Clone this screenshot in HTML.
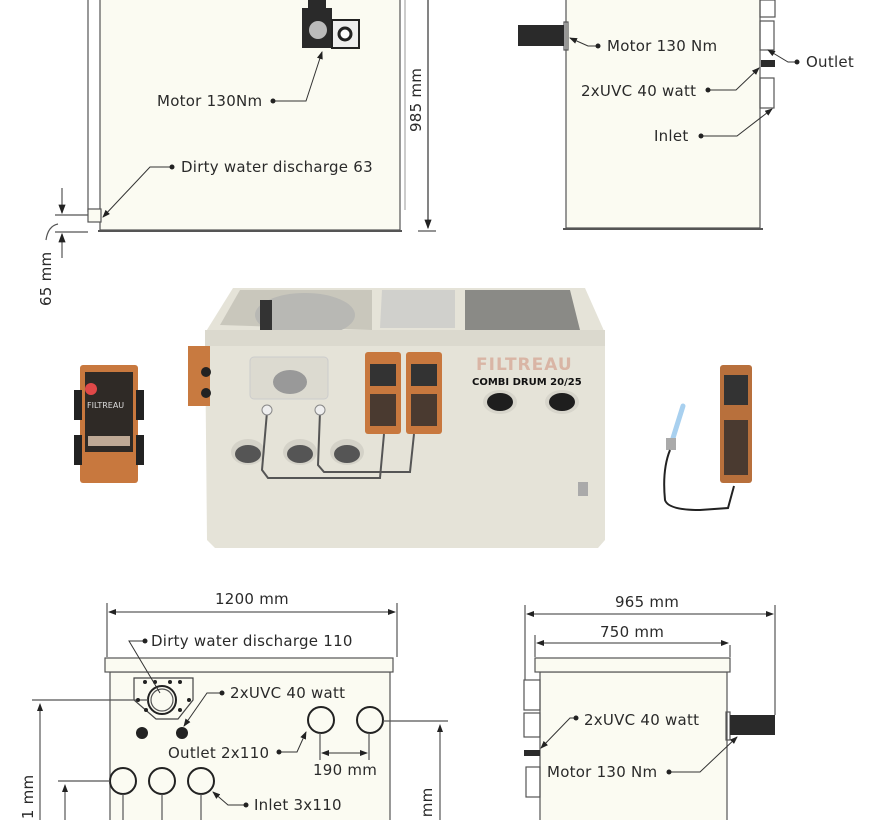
<!DOCTYPE html>
<html><head><meta charset="utf-8"><style>
html,body{margin:0;padding:0;background:#fff;}
svg{display:block;}
text{font-family:"DejaVu Sans","Liberation Sans",sans-serif;font-size:15px;letter-spacing:0.25px;fill:#2a2a2a;}
</style></head><body>
<svg width="890" height="820" viewBox="0 0 890 820" xmlns="http://www.w3.org/2000/svg">
<defs>
<marker id="ar" markerWidth="8" markerHeight="6" refX="7" refY="3" orient="auto"><path d="M0,0 L8,3 L0,6z" fill="#222"/></marker>
<marker id="al" markerWidth="8" markerHeight="6" refX="1" refY="3" orient="auto"><path d="M8,0 L0,3 L8,6z" fill="#222"/></marker>
</defs>
<g stroke="#555" fill="none" stroke-width="1.2">
<rect x="100" y="-2" width="300" height="232" fill="#fbfbf2"/>
<line x1="88" y1="0" x2="88" y2="212"/>
<rect x="88" y="209" width="13" height="13" fill="#fbfbf2"/>
<line x1="98" y1="231" x2="402" y2="231" stroke-width="2"/>
<line x1="405" y1="0" x2="405" y2="210" stroke="#aaa"/>
<line x1="428" y1="0" x2="428" y2="228" marker-end="url(#ar)" stroke="#333"/>
<line x1="418" y1="231" x2="436" y2="231"/>
<line x1="55" y1="215" x2="88" y2="215"/><line x1="55" y1="232" x2="88" y2="232"/>
<line x1="62" y1="188" x2="62" y2="213" marker-end="url(#ar)"/>
<line x1="62" y1="258" x2="62" y2="234" marker-end="url(#ar)"/>
<path d="M46,240 Q48,226 58,224"/>
</g>
<g>
<rect x="302" y="8" width="30" height="40" fill="#2a2a2a"/>
<rect x="308" y="0" width="18" height="10" fill="#2a2a2a"/>
<circle cx="318" cy="30" r="9" fill="#bbb"/>
<rect x="332" y="20" width="27" height="28" fill="#eee" stroke="#222" stroke-width="2"/>
<circle cx="345" cy="34" r="6" fill="#fff" stroke="#222" stroke-width="3"/>
</g>
<g stroke="#333" fill="none" stroke-width="1">
<path d="M273,101 L306,101 L322,52" marker-end="url(#ar)"/>
<path d="M172,167 L150,167 L103,217" marker-end="url(#ar)"/>
</g>
<circle cx="273" cy="101" r="2.5" fill="#222"/><circle cx="172" cy="167" r="2.5" fill="#222"/>
<text x="157" y="106">Motor 130Nm</text>
<text x="181" y="172">Dirty water discharge 63</text>
<text transform="translate(421,132) rotate(-90)">985 mm</text>
<text transform="translate(51,306) rotate(-90)">65 mm</text>

<g stroke="#555" fill="none" stroke-width="1.2">
<rect x="566" y="-2" width="194" height="230" fill="#fbfbf2"/>
<line x1="563" y1="229" x2="763" y2="229" stroke-width="2"/>
<rect x="760" y="0" width="15" height="17"/>
<rect x="760" y="21" width="14" height="29"/>
<rect x="760" y="78" width="14" height="30"/>
<rect x="564" y="22" width="4" height="28"/>
</g>
<rect x="518" y="25" width="46" height="21" fill="#2a2a2a"/>
<rect x="761" y="60" width="14" height="7" fill="#2a2a2a"/>
<g stroke="#333" fill="none" stroke-width="1">
<path d="M598,46 L588,46 L570,38" marker-end="url(#ar)"/>
<path d="M797,62 L788,62 L768,50" marker-end="url(#ar)"/>
<path d="M708,90 L736,90 L759,68" marker-end="url(#ar)"/>
<path d="M701,136 L737,136 L772,109" marker-end="url(#ar)"/>
</g>
<circle cx="598" cy="46" r="2.5" fill="#222"/><circle cx="797" cy="62" r="2.5" fill="#222"/>
<circle cx="708" cy="90" r="2.5" fill="#222"/><circle cx="701" cy="136" r="2.5" fill="#222"/>
<text x="607" y="51">Motor 130 Nm</text>
<text x="806" y="67">Outlet</text>
<text x="581" y="96">2xUVC 40 watt</text>
<text x="654" y="141">Inlet</text>

<polygon points="205,333 233,288 585,288 605,333 605,540 598,548 215,548 207,540" fill="#e5e3d8"/>
<polygon points="220,325 240,290 372,290 372,330" fill="#c9c7bc"/>
<ellipse cx="305" cy="315" rx="50" ry="22" fill="#b8b8b4"/>
<rect x="260" y="300" width="12" height="30" fill="#333"/>
<polygon points="382,290 455,290 455,328 380,328" fill="#d0d0cc"/>
<polygon points="465,290 570,290 580,330 465,330" fill="#8a8a86"/>
<rect x="205" y="330" width="400" height="16" fill="#dbd9ce"/>
<rect x="188" y="346" width="22" height="60" fill="#c87a40"/>
<circle cx="206" cy="372" r="5" fill="#222"/><circle cx="206" cy="393" r="5" fill="#222"/>
<rect x="250" y="357" width="78" height="42" rx="4" fill="#dcdad0" stroke="#ccc"/>
<ellipse cx="290" cy="382" rx="17" ry="12" fill="#999"/>
<rect x="365" y="352" width="36" height="82" rx="3" fill="#c8783e"/>
<rect x="406" y="352" width="36" height="82" rx="3" fill="#c8783e"/>
<rect x="370" y="364" width="26" height="22" fill="#333"/><rect x="411" y="364" width="26" height="22" fill="#333"/>
<rect x="370" y="394" width="26" height="32" fill="#4a3a30"/><rect x="411" y="394" width="26" height="32" fill="#4a3a30"/>
<text x="476" y="370" style="font-size:17px;font-weight:bold;fill:#d9b5a5;letter-spacing:1px">FILTREAU</text>
<text x="472" y="385" style="font-size:10px;font-weight:bold;fill:#111;letter-spacing:0">COMBI DRUM 20/25</text>
<ellipse cx="500" cy="402" rx="17" ry="12" fill="#d7d5cb"/><ellipse cx="500" cy="402" rx="13" ry="9" fill="#1e1e1e"/>
<ellipse cx="562" cy="402" rx="17" ry="12" fill="#d7d5cb"/><ellipse cx="562" cy="402" rx="13" ry="9" fill="#1e1e1e"/>
<g fill="#d4d2c8"><ellipse cx="248" cy="452" rx="17" ry="13"/><ellipse cx="300" cy="452" rx="17" ry="13"/><ellipse cx="347" cy="452" rx="17" ry="13"/></g>
<g fill="#555"><ellipse cx="248" cy="454" rx="13" ry="9"/><ellipse cx="300" cy="454" rx="13" ry="9"/><ellipse cx="347" cy="454" rx="13" ry="9"/></g>
<g stroke="#555" fill="none" stroke-width="2">
<path d="M267,412 L262,470 L268,478 L380,478 L384,434"/>
<path d="M320,412 L318,465 L324,472 L410,472 L414,434"/>
</g>
<circle cx="267" cy="410" r="5" fill="#eee" stroke="#888"/><circle cx="320" cy="410" r="5" fill="#eee" stroke="#888"/>
<rect x="578" y="482" width="10" height="14" fill="#aaa"/>

<rect x="80" y="365" width="58" height="118" rx="3" fill="#c8783e"/>
<rect x="74" y="390" width="8" height="30" fill="#222"/><rect x="136" y="390" width="8" height="30" fill="#222"/>
<rect x="74" y="435" width="8" height="30" fill="#222"/><rect x="136" y="435" width="8" height="30" fill="#222"/>
<rect x="85" y="372" width="48" height="80" fill="#2f2a26"/>
<circle cx="91" cy="389" r="6" fill="#e04848"/>
<text x="87" y="408" style="font-size:8px;fill:#ddd;letter-spacing:0">FILTREAU</text>
<rect x="88" y="436" width="42" height="10" fill="#bfa995"/>
<rect x="720" y="365" width="32" height="118" rx="3" fill="#b8703c"/>
<rect x="724" y="375" width="24" height="30" fill="#333"/>
<rect x="724" y="420" width="24" height="55" fill="#4a3a30"/>
<line x1="683" y1="406" x2="673" y2="438" stroke="#a8d0ef" stroke-width="5" stroke-linecap="round"/>
<rect x="666" y="438" width="10" height="12" fill="#aaa"/>
<path d="M670,450 Q662,470 665,500 Q668,510 700,510 L728,508 L734,486" stroke="#222" stroke-width="2" fill="none"/>

<g stroke="#555" fill="none" stroke-width="1.2">
<line x1="107" y1="603" x2="107" y2="657"/><line x1="397" y1="603" x2="397" y2="657"/>
<rect x="110" y="672" width="280" height="160" fill="#fbfbf2"/>
<rect x="105" y="658" width="288" height="14" fill="#fbfbf2"/>
<polygon points="134,678 193,678 193,700 178,719 156,719 134,700" fill="#fbfbf2" stroke="#444"/>
<circle cx="162" cy="700" r="14" stroke="#222" stroke-width="2"/><circle cx="162" cy="700" r="11"/>
<circle cx="321" cy="720" r="13" stroke="#222" stroke-width="2"/>
<circle cx="370" cy="720" r="13" stroke="#222" stroke-width="2"/>
<circle cx="123" cy="781" r="13" stroke="#222" stroke-width="2"/>
<circle cx="162" cy="781" r="13" stroke="#222" stroke-width="2"/>
<circle cx="201" cy="781" r="13" stroke="#222" stroke-width="2"/>
<line x1="123" y1="794" x2="123" y2="820"/><line x1="162" y1="794" x2="162" y2="820"/><line x1="201" y1="794" x2="201" y2="820"/>
<line x1="32" y1="700" x2="148" y2="700"/>
<line x1="58" y1="781" x2="110" y2="781"/>
<line x1="383" y1="721" x2="448" y2="721"/>
<line x1="320" y1="733" x2="320" y2="760"/><line x1="369" y1="733" x2="369" y2="760"/>
</g>
<g fill="#222"><circle cx="142" cy="733" r="6"/><circle cx="182" cy="733" r="6"/>
<circle cx="145" cy="682" r="2"/><circle cx="155" cy="682" r="2"/><circle cx="170" cy="682" r="2"/><circle cx="180" cy="682" r="2"/><circle cx="138" cy="700" r="2"/><circle cx="189" cy="700" r="2"/><circle cx="146" cy="710" r="2"/><circle cx="180" cy="710" r="2"/></g>
<g stroke="#333" fill="none" stroke-width="1">
<line x1="109" y1="612" x2="395" y2="612" marker-start="url(#al)" marker-end="url(#ar)"/>
<line x1="322" y1="753" x2="367" y2="753" marker-start="url(#al)" marker-end="url(#ar)"/>
<path d="M143,641 L129,641 L160,693"/>
<path d="M220,693 L207,693 L184,726" marker-end="url(#ar)"/>
<path d="M280,752 L297,752 L306,732" marker-end="url(#ar)"/>
<path d="M245,805 L228,805 L213,792" marker-end="url(#ar)"/>
<line x1="40" y1="820" x2="40" y2="704" marker-end="url(#ar)"/>
<line x1="65" y1="820" x2="65" y2="785" marker-end="url(#ar)"/>
<line x1="440" y1="820" x2="440" y2="725" marker-end="url(#ar)"/>
</g>
<g fill="#222"><circle cx="145" cy="641" r="2.5"/><circle cx="222" cy="693" r="2.5"/><circle cx="279" cy="752" r="2.5"/><circle cx="246" cy="805" r="2.5"/></g>
<text x="215" y="604">1200 mm</text>
<text x="151" y="646">Dirty water discharge 110</text>
<text x="230" y="698">2xUVC 40 watt</text>
<text x="168" y="758">Outlet 2x110</text>
<text x="313" y="775">190 mm</text>
<text x="254" y="810">Inlet 3x110</text>
<text transform="translate(33,832) rotate(-90)">~1 mm</text>
<text transform="translate(58,832) rotate(-90)">n</text>
<text transform="translate(432,832) rotate(-90)">5 mm</text>

<g stroke="#555" fill="none" stroke-width="1.2">
<line x1="525" y1="605" x2="525" y2="680"/><line x1="775" y1="605" x2="775" y2="715"/>
<line x1="535" y1="635" x2="535" y2="657"/><line x1="730" y1="645" x2="730" y2="657"/>
<rect x="540" y="672" width="187" height="160" fill="#fbfbf2"/>
<rect x="535" y="658" width="195" height="14" fill="#fbfbf2"/>
<rect x="524" y="680" width="16" height="30"/>
<rect x="524" y="713" width="16" height="24"/>
<rect x="526" y="767" width="14" height="30"/>
<rect x="726" y="712" width="4" height="28"/>
</g>
<rect x="730" y="715" width="45" height="20" fill="#2a2a2a"/>
<rect x="524" y="750" width="16" height="6" fill="#2a2a2a"/>
<g stroke="#333" fill="none" stroke-width="1">
<line x1="527" y1="614" x2="773" y2="614" marker-start="url(#al)" marker-end="url(#ar)"/>
<line x1="537" y1="643" x2="728" y2="643" marker-start="url(#al)" marker-end="url(#ar)"/>
<path d="M576,718 L570,718 L541,748" marker-end="url(#ar)"/>
<path d="M669,772 L700,772 L737,737" marker-end="url(#ar)"/>
</g>
<g fill="#222"><circle cx="576" cy="718" r="2.5"/><circle cx="669" cy="772" r="2.5"/></g>
<text x="615" y="607">965 mm</text>
<text x="600" y="637">750 mm</text>
<text x="584" y="725">2xUVC 40 watt</text>
<text x="547" y="777">Motor 130 Nm</text>
</svg>
</body></html>
